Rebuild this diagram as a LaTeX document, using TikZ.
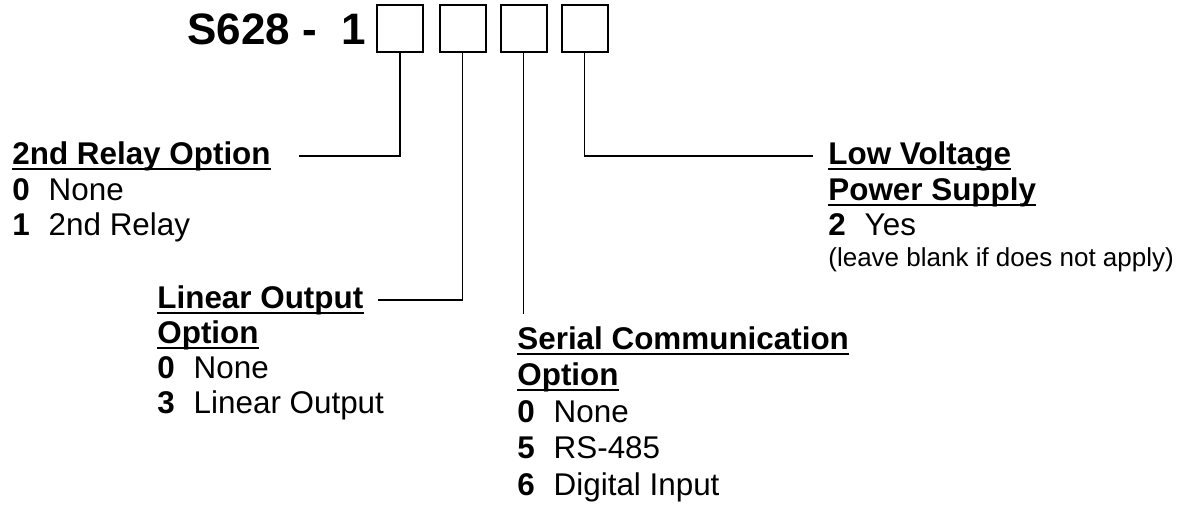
\documentclass[tikz,border=0pt]{standalone}
\usepackage{fontspec}
\setmainfont{Liberation Sans}

\begin{document}
\begin{tikzpicture}[x=0.5pt, y=-0.5pt,
    digit/.style={draw, line width=1pt, minimum width=23pt,
      minimum height=23.5pt, inner sep=0pt},
    lead/.style={line width=0.9pt},
    head/.style={anchor=base west, inner sep=0pt,
      font=\fontsize{15.7}{18}\selectfont\bfseries},
    item/.style={anchor=base west, inner sep=0pt,
      font=\fontsize{15.7}{18}\selectfont}]
    \path [use as bounding box]
      (0, 0) rectangle (1196, 514);

    \newcommand{\ulhead}[4]{
      \node[head] (#1) at (#2, #3) {#4};
      \draw[line width=1pt] ([yshift=-2.6pt]#1.base west)
        -- ([yshift=-2.6pt]#1.base east);
    }
    \newcommand{\optitem}[5]{
      \node[item] (#1) at (#2, #3) {\textbf{#4}\hspace{0.6em}#5};
    }

    \node[anchor=base west, inner sep=0pt,
      font=\fontsize{22}{24}\selectfont\bfseries] (code) at (187, 45) {S628 -\ \ 1};
    \node[digit] (d1) at (400, 28.5) {};
    \node[digit] (d2) at (462.5, 28.5) {};
    \node[digit] (d3) at (523.5, 28.5) {};
    \node[digit] (d4) at (584.5, 28.5) {};

    \ulhead{relay}{12}{164}{2nd Relay Option}
    \optitem{relay0}{12}{200}{0}{None}
    \optitem{relay1}{12}{235}{1}{2nd Relay}

    \ulhead{linear}{157}{308}{Linear Output}
    \ulhead{linopt}{157}{343}{Option}
    \optitem{linear0}{157}{378}{0}{None}
    \optitem{linear3}{157}{413}{3}{Linear Output}

    \ulhead{serial}{517}{349}{Serial Communication}
    \ulhead{seropt}{517}{385}{Option}
    \optitem{serial0}{517}{422}{0}{None}
    \optitem{serial5}{517}{458}{5}{RS-485}
    \optitem{serial6}{517}{495}{6}{Digital Input}

    \ulhead{lowv}{828}{164}{Low Voltage}
    \ulhead{power}{828}{200}{Power Supply}
    \optitem{power2}{828}{235}{2}{Yes}
    \node[item, font=\fontsize{13}{15}\selectfont] (blank) at (828, 266)
      {(leave blank if does not apply)};

    \draw[lead] (d1.south) |- ([xshift=14pt]relay.east);
    \draw[lead] (d2.south) |- ([xshift=7pt]linear.east);
    \coordinate (sertop) at ([yshift=6pt]serial.north);
    \draw[lead] (d3.south) -- (d3.south |- sertop);
    \draw[lead] (d4.south) |- ([xshift=-7.5pt]lowv.west);
\end{tikzpicture}
\end{document}
